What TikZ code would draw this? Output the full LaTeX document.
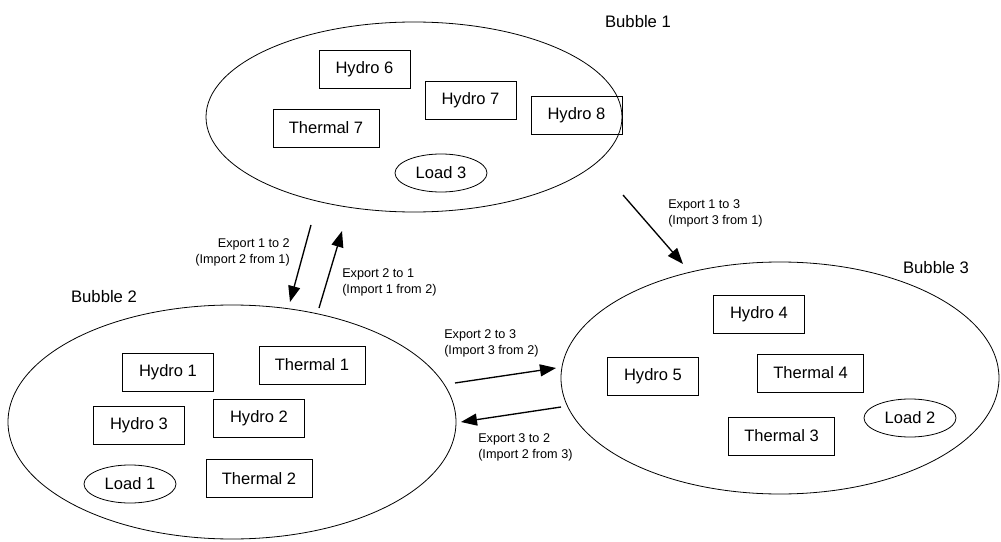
\documentclass[tikz,border=0pt]{standalone}
\usepackage{fontspec}
\setmainfont{Liberation Sans}
\usetikzlibrary{shapes.geometric,arrows.meta}
\begin{document}
\begin{tikzpicture}[x=0.75pt,y=-0.75pt,
  bubble/.style={draw,ellipse,line width=0.6pt,inner sep=0pt},
  unit/.style={draw,rectangle,line width=0.6pt,inner sep=0pt,minimum height=28.5pt,minimum width=68.25pt,font=\fontsize{12.4}{14}\selectfont},
  wide/.style={unit,minimum width=79.5pt},
  load/.style={draw,ellipse,line width=0.6pt,inner sep=0pt,minimum width=69pt,minimum height=28.5pt,font=\fontsize{12.4}{14}\selectfont},
  title/.style={font=\fontsize{12.5}{15}\selectfont},
  lab/.style={font=\fontsize{9.5}{12}\selectfont,inner sep=0pt},
  flow/.style={line width=1pt,-{Triangle[length=12pt,width=9pt]}}]
\useasboundingbox (0,0) rectangle (1001,542);
% bubbles
\node[bubble,minimum width=312pt,minimum height=142.5pt] (b1) at (414,117) {};
\node[bubble,minimum width=336pt,minimum height=175.5pt] (b2) at (232,422) {};
\node[bubble,minimum width=328.5pt,minimum height=174pt] (b3) at (780,378) {};
\node[title] (t1) at (638,22) {Bubble 1};
\node[title] (t2) at (104,297) {Bubble 2};
\node[title] (t3) at (936,268) {Bubble 3};
% bubble 1 contents
\node[unit] (h6) at (364.5,69.5) {Hydro 6};
\node[unit] (h7) at (470.5,100) {Hydro 7};
\node[unit] (h8) at (576.5,115) {Hydro 8};
\node[wide] (th7) at (326,128) {Thermal 7};
\node[load] (l3) at (441,173) {Load 3};
% bubble 2 contents
\node[unit] (h1) at (168,372) {Hydro 1};
\node[wide] (th1) at (312,365) {Thermal 1};
\node[unit] (h3) at (139,425) {Hydro 3};
\node[unit] (h2) at (259,418) {Hydro 2};
\node[load] (l1) at (130,484) {Load 1};
\node[wide] (th2) at (259,478.5) {Thermal 2};
% bubble 3 contents
\node[unit] (h4) at (759,314) {Hydro 4};
\node[unit] (h5) at (653,376.5) {Hydro 5};
\node[wide] (th4) at (810.5,373) {Thermal 4};
\node[wide] (th3) at (781.5,436) {Thermal 3};
\node[load] (l2) at (910,418) {Load 2};
% flow end points
\coordinate (e12s) at (311,225);
\coordinate (e12e) at (290,302);
\coordinate (e21s) at (319,308);
\coordinate (e21e) at (342,231);
\coordinate (e23s) at (455,383);
\coordinate (e23e) at (556,368);
\coordinate (e32s) at (561,407);
\coordinate (e32e) at (461,422);
\coordinate (e13s) at (623,195);
\coordinate (e13e) at (683,264);
\draw[flow] (e12s) -- (e12e);
\draw[flow] (e21s) -- (e21e);
\draw[flow] (e23s) -- (e23e);
\draw[flow] (e32s) -- (e32e);
\draw[flow] (e13s) -- (e13e);
% flow labels
\node[lab,anchor=east,align=right] (f12) at (290,252) {Export 1 to 2\\(Import 2 from 1)};
\node[lab,anchor=west,align=left] (f21) at (342,282) {Export 2 to 1\\(Import 1 from 2)};
\node[lab,anchor=west,align=left] (f23) at (444,343) {Export 2 to 3\\(Import 3 from 2)};
\node[lab,anchor=west,align=left] (f32) at (478,447) {Export 3 to 2\\(Import 2 from 3)};
\node[lab,anchor=west,align=left] (f13) at (668,213) {Export 1 to 3\\(Import 3 from 1)};
\end{tikzpicture}
\end{document}
